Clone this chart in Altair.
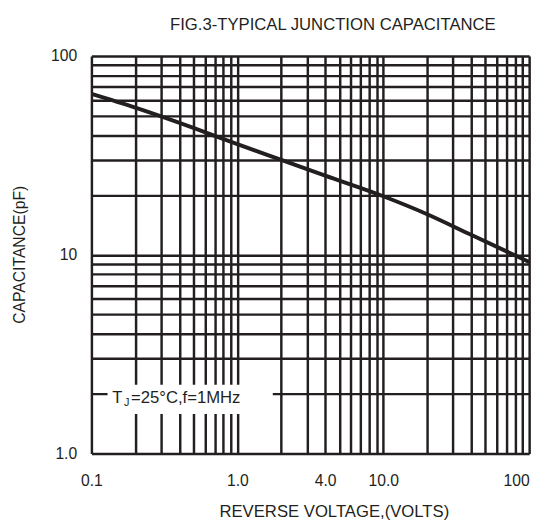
import altair as alt
import pandas as pd

# ---- data ----
voltage = [0.1, 0.2, 0.5, 1.0, 2.0, 4.0, 10.0, 20.0, 40.0, 100.0]
capacitance = [64.5, 55.0, 43.5, 36.0, 30.0, 25.0, 19.7, 16.0, 12.6, 9.2]

x_grid = [round(m * 10 ** e, 6) for e in (-1, 0, 1) for m in range(1, 10)] + [100.0]
y_grid = [round(m * 10 ** e, 6) for e in (0, 1) for m in range(1, 10)] + [100.0]

x_tick_text = {0.1: "0.1", 1: "1.0", 4: "4.0", 10: "10.0", 100: "100"}
y_tick_text = {1: "1.0", 10: "10", 100: "100"}

title_text = "FIG.3-TYPICAL JUNCTION CAPACITANCE"
x_title = "REVERSE VOLTAGE,(VOLTS)"
y_title = "CAPACITANCE(pF)"
note_main = ["T"]
note_sub = ["J"]
note_rest = ["=25°C,f=1MHz"]

INK = "#231f20"
FONT = "Liberation Sans"


def label_expr(mapping):
    parts = [f"datum.value == {k} ? '{v}'" for k, v in mapping.items()]
    return " : ".join(parts) + " : ''"


df = pd.DataFrame({"v": voltage, "c": capacitance})
one = pd.DataFrame({"main": note_main, "sub": note_sub, "rest": note_rest})

xscale = alt.Scale(type="log", domain=[0.1, 100], nice=False)
yscale = alt.Scale(type="log", domain=[1, 100], nice=False)

xaxis = alt.Axis(
    values=x_grid, labelExpr=label_expr(x_tick_text), grid=True,
    gridColor=INK, gridWidth=2.5, gridOpacity=1, ticks=False, domain=False,
    labelFont=FONT, labelFontSize=16, labelColor=INK, labelPadding=28,
    labelBaseline="middle", labelOverlap=False,
    labelAlign={"condition": {"test": "datum.value == 100", "value": "right"}, "value": "center"},
    title=x_title, titleFont=FONT, titleFontSize=17, titleFontWeight="normal",
    titleColor=INK, titleX=247, titleY=59, titleBaseline="middle", titleAlign="center",
)
yaxis = alt.Axis(
    values=y_grid, labelExpr=label_expr(y_tick_text), grid=True,
    gridColor=INK, gridWidth=2.5, gridOpacity=1, ticks=False, domain=False,
    labelFont=FONT, labelFontSize=16, labelColor=INK, labelPadding=15,
    labelOverlap=False,
    title=y_title, titleFont=FONT, titleFontSize=16, titleFontWeight="normal",
    titleColor=INK, titleX=-73, titleY=202, titleAngle=-90,
    titleBaseline="middle", titleAlign="center",
)

curve = alt.Chart(df).mark_line(color=INK, strokeWidth=4, interpolate="monotone").encode(
    x=alt.X("v:Q", scale=xscale, axis=xaxis),
    y=alt.Y("c:Q", scale=yscale, axis=yaxis),
)

box = alt.Chart(one).mark_rect(fill="white").encode(
    x=alt.datum(0.129), x2=alt.datum(1.75),
    y=alt.datum(1.58), y2=alt.datum(2.22),
)

t_main = alt.Chart(one).mark_text(
    align="left", baseline="middle", font=FONT, fontSize=17, fontWeight="normal", color=INK
).encode(x=alt.datum(0.139), y=alt.datum(1.9), text="main:N")

t_sub = alt.Chart(one).mark_text(
    align="left", baseline="middle", font=FONT, fontSize=11, fontWeight="normal",
    color=INK, dx=12, dy=5
).encode(x=alt.datum(0.139), y=alt.datum(1.9), text="sub:N")

t_rest = alt.Chart(one).mark_text(
    align="left", baseline="middle", font=FONT, fontSize=17, fontWeight="normal",
    color=INK, dx=19
).encode(x=alt.datum(0.139), y=alt.datum(1.9), text="rest:N")

chart = alt.layer(curve, box, t_main, t_sub, t_rest).properties(
    width=446, height=405,
    autosize=alt.AutoSizeParams(type="none"),
    padding={"left": 85, "top": 44, "right": 8, "bottom": 72},
    title=alt.TitleParams(
        title_text, font=FONT, fontSize=17, fontWeight="normal", color=INK,
        dx=23, offset=14, anchor="middle",
    ),
).configure_view(stroke=INK, strokeWidth=2.5).configure(background="white")

chart.save("out.html", embed_options={"renderer": "svg", "actions": False})
